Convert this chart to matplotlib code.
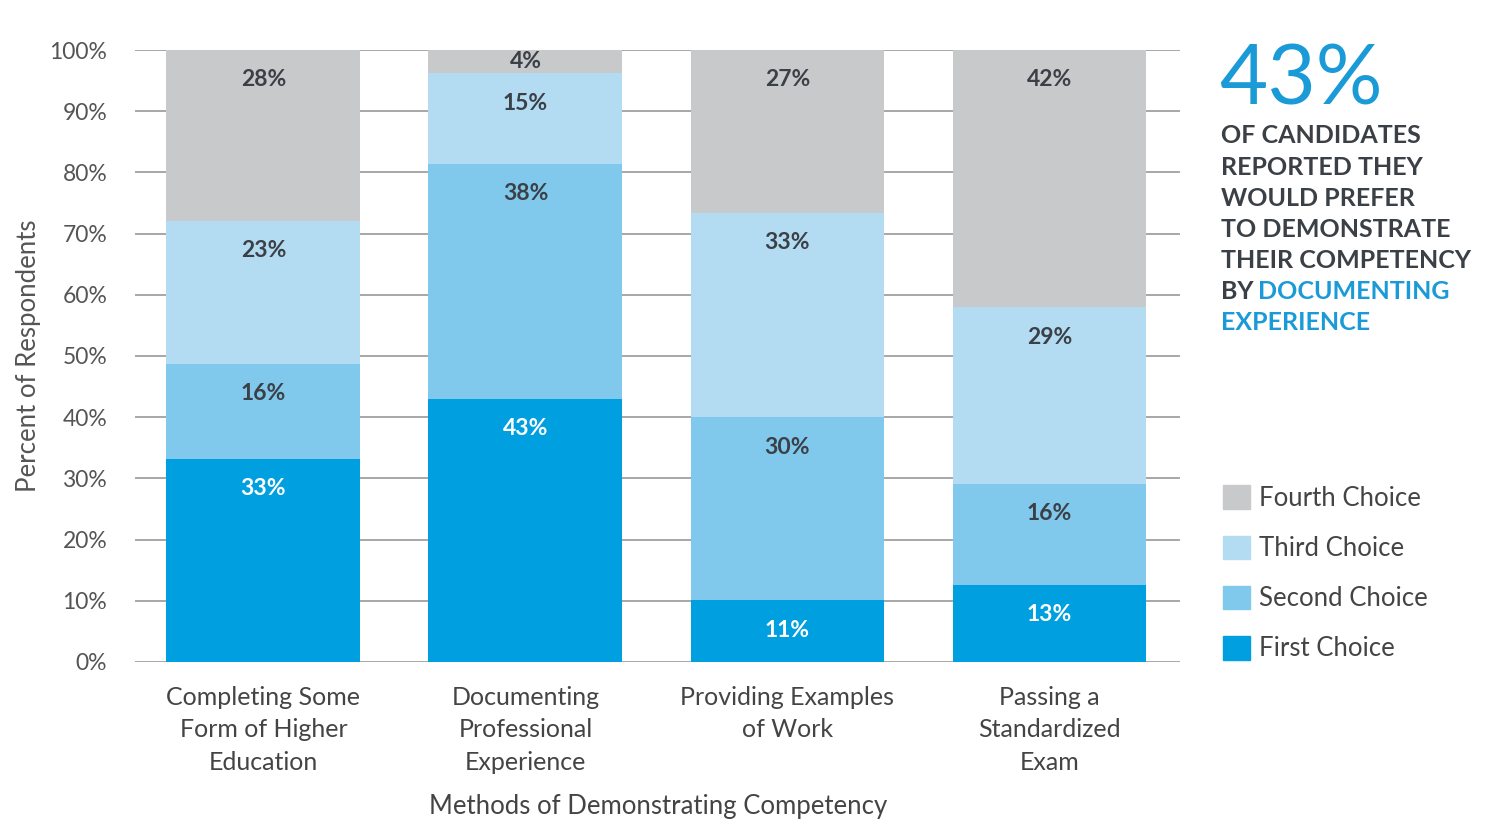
import matplotlib.pyplot as plt
from matplotlib.patches import Patch

plt.rcParams['font.family'] = ['Lato', 'DejaVu Sans']

categories = ['Completing Some\nForm of Higher\nEducation',
              'Documenting\nProfessional\nExperience',
              'Providing Examples\nof Work',
              'Passing a\nStandardized\nExam']
series_names = ['First Choice', 'Second Choice', 'Third Choice', 'Fourth Choice']
first = [33.2, 43.0, 10.1, 12.6]
second = [15.5, 38.4, 29.9, 16.5]
third = [23.4, 14.8, 33.4, 28.9]
fourth = [27.9, 3.8, 26.6, 42.0]
first_lbl = [33, 43, 11, 13]
second_lbl = [16, 38, 30, 16]
third_lbl = [23, 15, 33, 29]
fourth_lbl = [28, 4, 27, 42]

colors = ['#009fdf', '#80c8ec', '#b3dcf3', '#c8c9cb']
dark = '#3b4046'

fig = plt.figure(figsize=(15, 8.39), dpi=100)
ax = fig.add_axes([0.09, 0.211, 0.697, 0.7294])

x = range(len(categories))
series = [first, second, third, fourth]
labels = [first_lbl, second_lbl, third_lbl, fourth_lbl]
bottom = [0.0] * len(categories)
for i, (vals, lbls) in enumerate(zip(series, labels)):
    ax.bar(x, vals, bottom=bottom, width=0.74, color=colors[i], zorder=2)
    for j, (v, l) in enumerate(zip(vals, lbls)):
        top = bottom[j] + v
        y = top - min(4.9, v / 2)
        ax.text(j, y, f'{l}%', ha='center', va='center', fontsize=16.5,
                fontweight='bold', color='white' if i == 0 else dark, zorder=3)
    bottom = [b + v for b, v in zip(bottom, vals)]

ax.set_xlim(-0.49, 3.5)
ax.set_ylim(0, 100)
ax.set_yticks(range(0, 101, 10))
ax.set_yticklabels([f'{t}%' for t in range(0, 101, 10)], fontsize=16.5, color='#555555')
ax.set_xticks(list(x))
ax.set_xticklabels(categories, fontsize=18, color='#444444', linespacing=1.5)
ax.tick_params(length=0, pad=17)
ax.tick_params(axis='y', pad=20)
ax.grid(axis='y', color='#a0a0a0', lw=1.3, zorder=0)
for s in ax.spines.values():
    s.set_visible(False)
ax.set_ylabel('Percent of Respondents', fontsize=18.5, color='#555555', labelpad=6)
ax.set_xlabel('Methods of Demonstrating Competency', fontsize=18.5, color='#444444', labelpad=15)

# callout
fig.text(0.813, 0.875, '43%', fontsize=60, color='#1a9ad6', ha='left', va='baseline')
callout = ['OF CANDIDATES', 'REPORTED THEY', 'WOULD PREFER',
           'TO DEMONSTRATE', 'THEIR COMPETENCY']
for k, line in enumerate(callout):
    fig.text(0.814, 0.829 - k * 0.037, line, fontsize=18, fontweight='bold',
             color=dark, ha='left', va='baseline')
fig.text(0.814, 0.829 - 5 * 0.037, 'BY ', fontsize=18, fontweight='bold',
         color=dark, ha='left', va='baseline')
fig.text(0.8385, 0.829 - 5 * 0.037, 'DOCUMENTING', fontsize=18, fontweight='bold',
         color='#1a9ad6', ha='left', va='baseline')
fig.text(0.814, 0.829 - 6 * 0.037, 'EXPERIENCE', fontsize=18, fontweight='bold',
         color='#1a9ad6', ha='left', va='baseline')

handles = [Patch(color=colors[i], label=series_names[i]) for i in range(3, -1, -1)]
fig.legend(handles=handles, loc='upper left', bbox_to_anchor=(0.8, 0.449),
           frameon=False, fontsize=18.5, handlelength=1.05, handleheight=1.05,
           handletextpad=0.35, labelspacing=0.95, labelcolor='#444444')

fig.savefig('out.png', dpi=100)
